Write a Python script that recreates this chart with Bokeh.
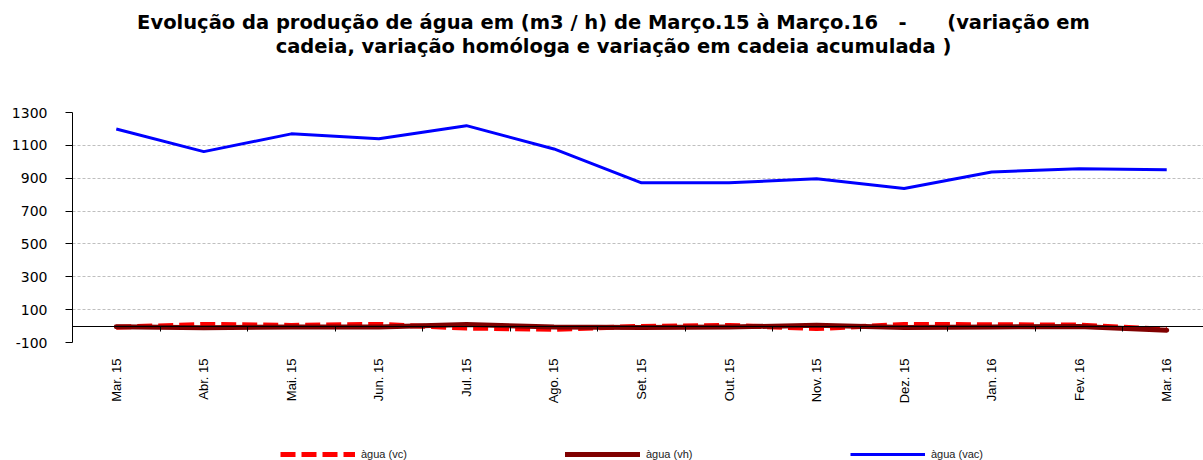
from bokeh.plotting import figure
from bokeh.layouts import column
from bokeh.models import (Range1d, FixedTicker, LinearAxis, Legend, LegendItem,
                          Label, ColumnDataSource)
from bokeh.embed import file_html
from bokeh.resources import INLINE
import math

months = ["Mar. 15", "Abr. 15", "Mai. 15", "Jun. 15", "Jul. 15", "Ago. 15", "Set. 15",
          "Out. 15", "Nov. 15", "Dez. 15", "Jan. 16", "Fev. 16", "Mar. 16"]
agua_vc = [-7, 10, 4, 10, -12, -20, -2, 4, -15, 10, 8, 6, -20]
agua_vh = [-4, -10, -6, -6, 10, -6, -8, -6, 5, -8, -5, -2, -25]
agua_vac = [1200, 1062, 1170, 1140, 1220, 1078, 872, 872, 897, 837, 938, 957, 952]
y_ticks = [-100, 100, 300, 500, 700, 900, 1100, 1300]
series_names = ["àgua (vc)", "àgua (vh)", "àgua (vac)"]
NB = "\u00a0"
title_lines = ["Evolução da produção de água em (m3 / h) de Março.15 à Março.16 " + NB * 2
               + "- " + NB * 5 + "(variação em",
               "cadeia, variação homóloga e variação em cadeia acumulada )"]

W = 1203
LEFT = 72
styles = [dict(line_color="#FF0000", line_width=5, line_dash="15 6", line_join="round"),
          dict(line_color="#800000", line_width=5, line_join="round", line_cap="round"),
          dict(line_color="#0000FF", line_width=3, line_join="round")]

# ---------- title ----------
pt = figure(width=W, height=78, output_backend="svg", toolbar_location=None,
            x_range=Range1d(0, 1), y_range=Range1d(0, 1), min_border=0,
            min_border_left=LEFT, x_axis_location=None, y_axis_location=None)
pt.outline_line_color = None
pt.grid.visible = False
for line, yy in zip(title_lines, [56, 32]):
    pt.add_layout(Label(x=613 - LEFT, y=yy, x_units="screen", y_units="screen", text=line,
                        text_align="center", text_baseline="middle",
                        text_font="DejaVu Sans", text_font_style="bold",
                        text_font_size="19.5px", text_color="black"))

# ---------- main chart ----------
idx = list(range(len(months)))
src = ColumnDataSource(dict(x=idx, vc=agua_vc, vh=agua_vh, vac=agua_vac))

p = figure(width=W, height=330, output_backend="svg", toolbar_location=None,
           x_range=Range1d(-0.5, 12.42), y_range=Range1d(-100, 1300),
           min_border_left=LEFT, min_border_right=0, min_border_top=34,
           min_border_bottom=66, x_axis_location=None)
p.outline_line_color = None
p.xgrid.visible = False

yax = p.yaxis[0]
yax.ticker = FixedTicker(ticks=y_ticks)
yax.major_label_overrides = {t: str(t) for t in y_ticks}
yax.minor_tick_line_color = None
yax.major_tick_in = 0
yax.major_tick_out = 7
yax.major_label_standoff = 18
yax.axis_line_color = "black"
yax.major_tick_line_color = "black"
yax.major_label_text_font = "DejaVu Sans"
yax.major_label_text_font_size = "14px"
yax.major_label_text_color = "black"
p.ygrid.ticker = FixedTicker(ticks=y_ticks)
p.ygrid.grid_line_color = "#BFBFBF"
p.ygrid.grid_line_dash = "3 2"

xlab = LinearAxis(ticker=FixedTicker(ticks=idx),
                  major_label_overrides={i: m for i, m in enumerate(months)})
xlab.axis_line_color = None
xlab.major_tick_line_color = None
xlab.minor_tick_line_color = None
xlab.major_label_orientation = math.pi / 2
xlab.major_label_standoff = 10
xlab.major_label_text_font = "Liberation Sans"
xlab.major_label_text_font_size = "13px"
xlab.major_label_text_color = "black"
p.add_layout(xlab, "below")

xtk = LinearAxis(ticker=FixedTicker(ticks=[i + 0.5 for i in idx]), fixed_location=0)
xtk.axis_line_color = "black"
xtk.major_tick_line_color = "black"
xtk.minor_tick_line_color = None
xtk.major_tick_in = 0
xtk.major_tick_out = 5
xtk.major_label_text_font_size = "0px"
xtk.major_label_text_color = None
p.add_layout(xtk, "below")

p.line("x", "vc", source=src, **styles[0])
p.line("x", "vh", source=src, **styles[1])
p.line("x", "vac", source=src, **styles[2])

# ---------- legend ----------
pl = figure(width=W, height=52, output_backend="svg", toolbar_location=None,
            x_range=Range1d(0, 1), y_range=Range1d(0, 1), min_border=0,
            min_border_left=LEFT, x_axis_location=None, y_axis_location=None)
pl.outline_line_color = None
pl.grid.visible = False
items = []
for name, st in zip(series_names, styles):
    r = pl.line(x=[float("nan")], y=[float("nan")], **st)
    items.append(LegendItem(label=name, renderers=[r]))
legend = Legend(items=items, orientation="horizontal", location=(280 - LEFT, 0))
legend.glyph_width = 75
legend.glyph_height = 10
legend.label_standoff = 6
legend.label_width = 60
legend.spacing = 144
legend.padding = 0
legend.margin = 0
legend.border_line_color = None
legend.background_fill_alpha = 0
legend.label_text_font = "Liberation Sans"
legend.label_text_font_size = "11px"
legend.label_text_color = "#222222"
pl.add_layout(legend, "center")

layout = column(pt, p, pl, spacing=0)
open("out.html", "w").write(file_html(layout, INLINE))
